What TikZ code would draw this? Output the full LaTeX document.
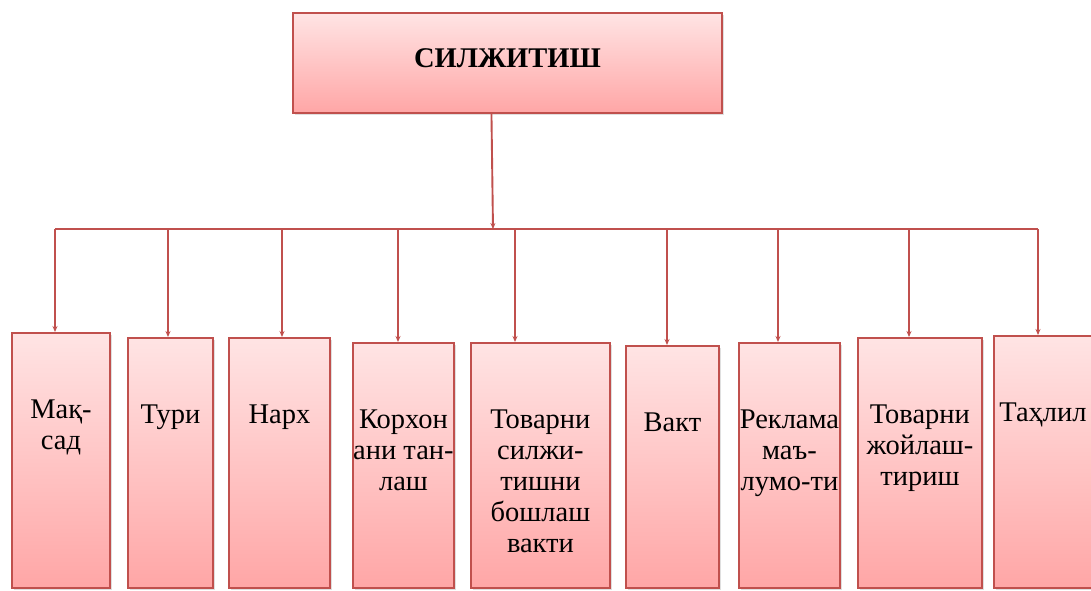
\documentclass[tikz,border=0pt]{standalone}
\usepackage{fontspec}
\setmainfont{Liberation Serif}
\usetikzlibrary{arrows.meta,shadows,calc}
\definecolor{edge}{RGB}{192,80,77}
\definecolor{filltop}{RGB}{255,228,228}
\definecolor{fillbot}{RGB}{255,166,166}
\tikzset{
  box/.style={draw=edge, line width=1.9pt, top color=filltop, bottom color=fillbot,
    anchor=north west, inner sep=0pt,
    drop shadow={shadow xshift=2pt, shadow yshift=-2pt, opacity=0.25}},
  lbl/.style={anchor=north, inner sep=0pt, align=center,
    font=\fontsize{28.5}{31}\selectfont},
  conn/.style={draw=edge, line width=1.9pt, -{Stealth[length=6pt,width=5pt]}},
  bus/.style={draw=edge, line width=1.9pt},
}
\begin{document}
\begin{tikzpicture}[x=1pt,y=-1pt]
\useasboundingbox (0,0) rectangle (1091,590);

% top box
\node[box, minimum width=429pt, minimum height=100pt, text depth=10pt,
      font=\bfseries\fontsize{28.5}{32}\selectfont] (top) at (292,12) {СИЛЖИТИШ};

% lower boxes
\node[box, minimum width=98pt,  minimum height=255pt] (b1) at (11,332)  {};
\node[box, minimum width=85pt,  minimum height=250pt] (b2) at (127,337) {};
\node[box, minimum width=101pt, minimum height=250pt] (b3) at (228,337) {};
\node[box, minimum width=101pt, minimum height=245pt] (b4) at (352,342) {};
\node[box, minimum width=139pt, minimum height=245pt] (b5) at (470,342) {};
\node[box, minimum width=93pt,  minimum height=242pt] (b6) at (625,345) {};
\node[box, minimum width=101pt, minimum height=245pt] (b7) at (738,342) {};
\node[box, minimum width=124pt, minimum height=250pt] (b8) at (857,337) {};
\node[box, minimum width=110pt, minimum height=252pt] (b9) at (993,335) {};

% box texts
\node[lbl] (t1) at ($(b1.north)+(0,68)$) {Мақ-\\сад};
\node[lbl] (t2) at ($(b2.north)+(0,68)$) {Тури};
\node[lbl] (t3) at ($(b3.north)+(0,68)$) {Нарх};
\node[lbl] (t4) at ($(b4.north)+(0,68)$) {Корхон\\ани тан-\\лаш};
\node[lbl] (t5) at ($(b5.north)+(0,68)$) {Товарни\\силжи-\\тишни\\бошлаш\\вакти};
\node[lbl] (t6) at ($(b6.north)+(0,68)$) {Вакт};
\node[lbl] (t7) at ($(b7.north)+(0,68)$) {Реклама\\маъ-\\лумо-ти};
\node[lbl] (t8) at ($(b8.north)+(0,68)$) {Товарни\\жойлаш-\\тириш};
\node[lbl] (t9) at ($(b9.north)+(-6,68)$) {Таҳлил};

% bus line and drop points
\coordinate (hub) at (493,229);
\coordinate (d1) at (55,229);
\coordinate (d2) at (168,229);
\coordinate (d3) at (282,229);
\coordinate (d4) at (398,229);
\coordinate (d5) at (515,229);
\coordinate (d6) at (667,229);
\coordinate (d7) at (778,229);
\coordinate (d8) at (909,229);
\coordinate (d9) at (1038,229);

\draw[conn] ([xshift=-16pt]top.south) -- (hub);
\draw[bus] (d1) -- (d9);
\foreach \i in {1,...,9}{
  \draw[conn] (d\i) -- (d\i |- b\i.north);
}
\end{tikzpicture}
\end{document}
